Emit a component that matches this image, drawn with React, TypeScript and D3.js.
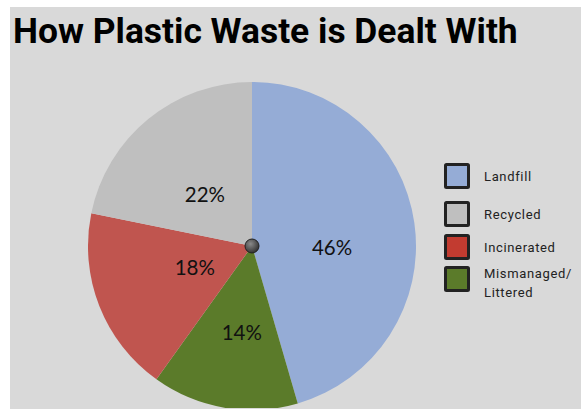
import React from "react";
import * as d3 from "d3";

const title = "How Plastic Waste is Dealt With";
const categories = ["Landfill", "Mismanaged/Littered", "Incinerated", "Recycled"];
const values = [45.5, 14.4, 18.3, 21.8];
const sliceColors = ["#95acd6", "#5b7b2a", "#c0554f", "#bfbfbf"];
const legendOrder = ["Landfill", "Recycled", "Incinerated", "Mismanaged/Littered"];
const legendLines = [["Landfill"], ["Recycled"], ["Incinerated"], ["Mismanaged/", "Littered"]];
const legendColors = ["#95acd6", "#bfbfbf", "#c23b30", "#5b7b2a"];

// layout
const W = 581, H = 409;
const cx = 252, cy = 246, R = 164;
const labelRadius = [80, 87, 61, 70];
const labelAngleShift = [9, -3, 1, -3];
const legendRowY = [176, 214, 247, 279];

export default function App() {
  const pie = d3.pie<number>().sort(null).value((d) => d)(values);
  const arc = d3.arc<d3.PieArcDatum<number>>().innerRadius(0).outerRadius(R);
  const total = d3.sum(values);
  const pct = (v: number) => `${Math.round((v / total) * 100)}%`;
  return (
    <svg
      width={W}
      height={H}
      style={{ position: "absolute", left: 0, top: 0, background: "#ffffff" }}
    >
      <rect x={10} y={7} width={W - 10} height={H - 7} fill="#d9d9d9" />
      <clipPath id="clip">
        <rect x={10} y={7} width={W - 10} height={H - 8} />
      </clipPath>
      <g clipPath="url(#clip)">
        <g transform={`translate(${cx},${cy})`}>
          {pie.map((p, i) => (
            <path key={i} d={arc(p) || ""} fill={sliceColors[i]} />
          ))}
          {pie.map((p, i) => {
            const mid = (p.startAngle + p.endAngle) / 2 + (labelAngleShift[i] * Math.PI) / 180;
            const r = labelRadius[i];
            const x = r * Math.sin(mid);
            const y = -r * Math.cos(mid);
            return (
              <text
                key={"l" + i}
                x={x}
                y={y}
                dy="0.36em"
                textAnchor="middle"
                fontFamily="Lato"
                fontSize={20.5}
                fill="#111"
              >
                {pct(values[i])}
              </text>
            );
          })}
        </g>
      </g>
      <defs>
        <radialGradient id="dot" cx="40%" cy="35%" r="65%">
          <stop offset="0%" stopColor="#8a8a8a" />
          <stop offset="100%" stopColor="#333" />
        </radialGradient>
      </defs>
      <circle cx={cx} cy={cy} r={7} fill="url(#dot)" stroke="#222" strokeWidth={1} />
      <text
        x={13}
        y={43}
        fontFamily="Roboto"
        fontWeight={700}
        fontSize={35.4}
        fill="#000"
      >
        {title}
      </text>
      {legendOrder.map((name, i) => {
        const ci = categories.indexOf(name);
        const y = legendRowY[i];
        const lines = legendLines[i];
        return (
          <g key={name}>
            <rect
              x={445.5}
              y={y - 11.5}
              width={23}
              height={23}
              fill={legendColors[i]}
              stroke="#222"
              strokeWidth={3}
              rx={1}
              data-cat={ci}
            />
            {lines.map((ln, j) => (
              <text
                key={j}
                x={484}
                y={lines.length === 1 ? y + 4.5 : y - 1 + j * 18.5}
                fontFamily="Roboto"
                fontSize={13}
                letterSpacing={0.65}
                fill="#222"
              >
                {ln}
              </text>
            ))}
          </g>
        );
      })}
    </svg>
  );
}
